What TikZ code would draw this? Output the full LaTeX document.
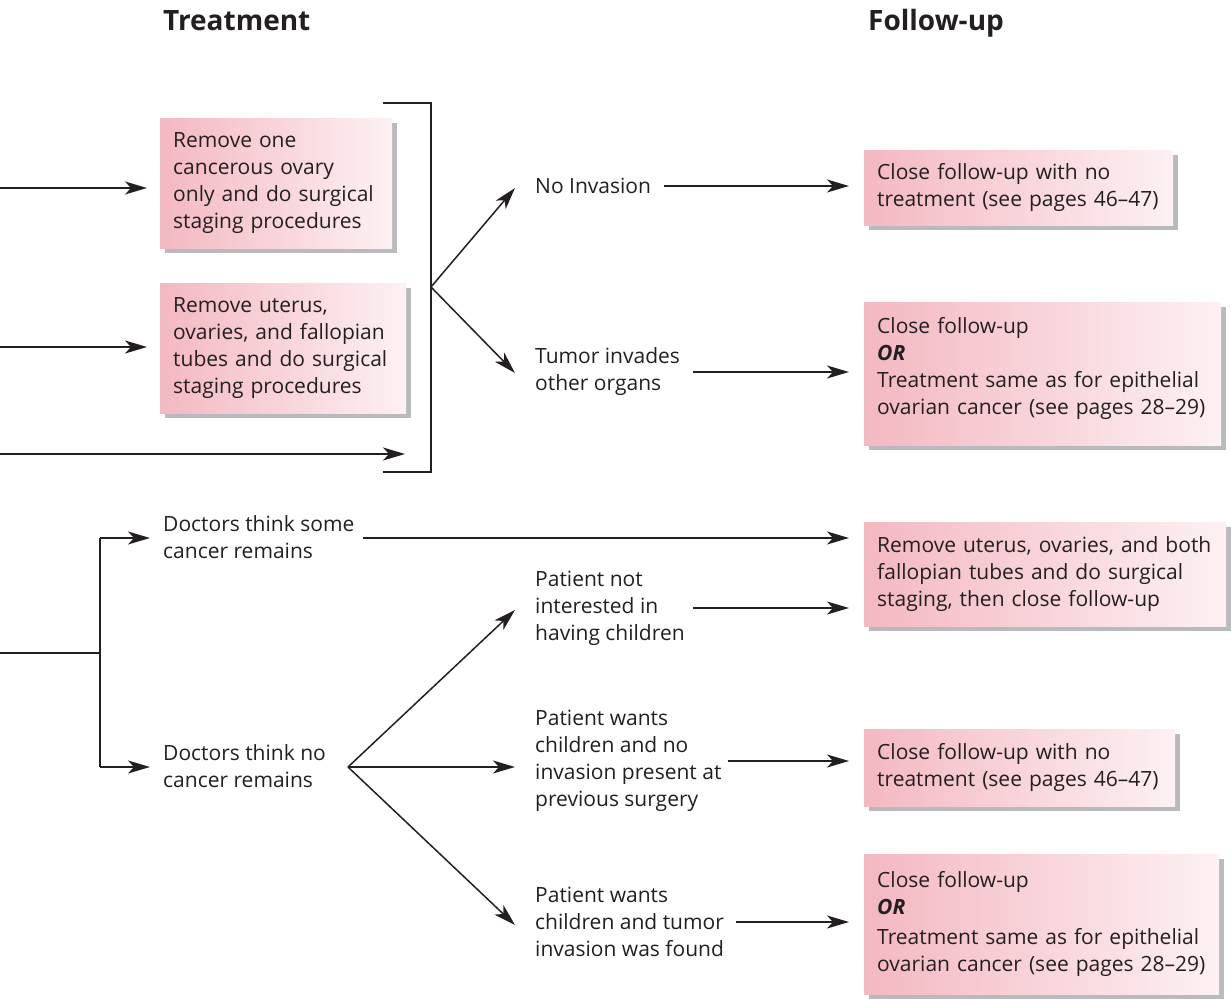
\documentclass[tikz,border=0pt]{standalone}
\usepackage{fontspec}
\setmainfont{Open Sans}
\usetikzlibrary{arrows.meta,shadows,calc}
\definecolor{pinkL}{HTML}{F4B8C1}
\definecolor{pinkR}{HTML}{FDF1F3}
\definecolor{shgray}{HTML}{B9BABD}
\definecolor{ink}{HTML}{231F20}
\begin{document}
\begin{tikzpicture}[x=1pt,y=-1pt,
  every node/.style={font=\fontsize{21}{27}\selectfont, text=ink},
  pbox/.style={anchor=north west, left color=pinkL, right color=pinkR, draw=none,
    inner xsep=13pt, inner ysep=0pt, align=left,
    drop shadow={shadow xshift=5pt, shadow yshift=-5pt, fill=shgray, opacity=1}},
  lbl/.style={anchor=west, align=left, inner sep=0pt},
  hdr/.style={anchor=base west, inner sep=0pt, font=\fontsize{28}{32}\selectfont\bfseries},
  arr/.style={draw=ink, line width=1.5pt, -{Stealth[length=22pt,width=13pt,inset=6pt]}},
  ln/.style={draw=ink, line width=1.5pt}]
\useasboundingbox (0,0) rectangle (1231,1000);

% headers
\node[hdr] (hT) at (163,31) {Treatment};
\node[hdr] (hF) at (868,31) {Follow-up};

% treatment boxes
\node[pbox, text width=206pt, minimum height=130pt] (b1) at (160,118)
  {Remove one\\cancerous ovary\\only and do surgical\\staging procedures};
\node[pbox, text width=220pt, minimum height=130pt] (b2) at (160,283)
  {Remove uterus,\\ovaries, and fallopian\\tubes and do surgical\\staging procedures};

% follow-up boxes
\node[pbox, text width=283pt, minimum height=75pt] (b3) at (864,150)
  {Close follow-up with no\\treatment (see pages 46–47)};
\node[pbox, text width=331pt, minimum height=143pt] (b4) at (864,302)
  {Close follow-up\\\textbf{\textit{OR}}\\Treatment same as for epithelial\\ovarian cancer (see pages 28–29)\par\vspace*{10pt}};
\node[pbox, text width=336pt, minimum height=104pt] (b5) at (864,522)
  {Remove uterus, ovaries, and both\\fallopian tubes and do surgical\\staging, then close follow-up};
\node[pbox, text width=285pt, minimum height=77pt] (b6) at (864,729)
  {Close follow-up with no\\treatment (see pages 46–47)};
\node[pbox, text width=329pt, minimum height=140pt] (b7) at (864,854)
  {Close follow-up\\\textbf{\textit{OR}}\\[3pt]Treatment same as for epithelial\\ovarian cancer (see pages 28–29)};

% plain labels
\node[lbl] (noinv) at (535,186) {No Invasion};
\node[lbl] (tumor) at (535,372) {Tumor invades\\other organs};
\node[lbl] (dsome) at (163,537) {Doctors think some\\cancer remains};
\node[lbl] (dno) at (163,766) {Doctors think no\\cancer remains};
\node[lbl] (pnot) at (535,608) {Patient not\\interested in\\having children};
\node[lbl] (pnoinv) at (535,761) {Patient wants\\children and no\\invasion present at\\previous surgery};
\node[lbl] (ptum) at (535,922) {Patient wants\\children and tumor\\invasion was found};

% coordinates
\coordinate (in1) at (0,188);
\coordinate (in2) at (0,347);
\coordinate (in3) at (0,454);
\coordinate (t3) at (405,454);
\coordinate (brT) at (383,103);
\coordinate (brTR) at (431,103);
\coordinate (brBR) at (431,472);
\coordinate (brB) at (383,472);
\coordinate (brM) at (431,287);
\coordinate (tNo) at (515,188);
\coordinate (tTu) at (515,373);
\coordinate (in4) at (0,653);
\coordinate (sp) at (100,653);
\coordinate (spT) at (100,538);
\coordinate (spB) at (100,767);
\coordinate (fan) at (348,767);
\coordinate (tP1) at (515,610);
\coordinate (tP2) at (515,767);
\coordinate (tP3) at (515,925);

% upper connectors
\draw[arr, shorten >=13pt] (in1) -- (in1 -| b1.west);
\draw[arr, shorten >=13pt] (in2) -- (in2 -| b2.west);
\draw[arr] (in3) -- (t3);
\draw[ln] (brT) -- (brTR) -- (brBR) -- (brB);
\draw[arr] (brM) -- (tNo);
\draw[arr] (brM) -- (tTu);
\draw[arr, shorten <=13pt, shorten >=15pt] (noinv.east) -- (noinv.east -| b3.west);
\draw[arr, shorten <=13pt, shorten >=15pt] (tumor.east) -- (tumor.east -| b4.west);

% lower connectors
\draw[ln] (in4) -- (sp);
\draw[ln] (spT) -- (spB);
\draw[arr, shorten >=13pt] (spT) -- (spT -| dsome.west);
\draw[arr, shorten >=13pt] (spB) -- (spB -| dno.west);
\draw[arr, shorten <=8pt, shorten >=15pt] (dsome.east |- spT) -- (spT -| b5.west);
\draw[arr] (fan) -- (tP1);
\draw[arr] (fan) -- (tP2);
\draw[arr] (fan) -- (tP3);
\draw[arr, shorten <=8pt, shorten >=15pt] (pnot.east) -- (pnot.east -| b5.west);
\draw[arr, shorten <=6pt, shorten >=15pt] (pnoinv.east) -- (pnoinv.east -| b6.west);
\draw[arr, shorten <=12pt, shorten >=15pt] (ptum.east) -- (ptum.east -| b7.west);
\end{tikzpicture}
\end{document}
